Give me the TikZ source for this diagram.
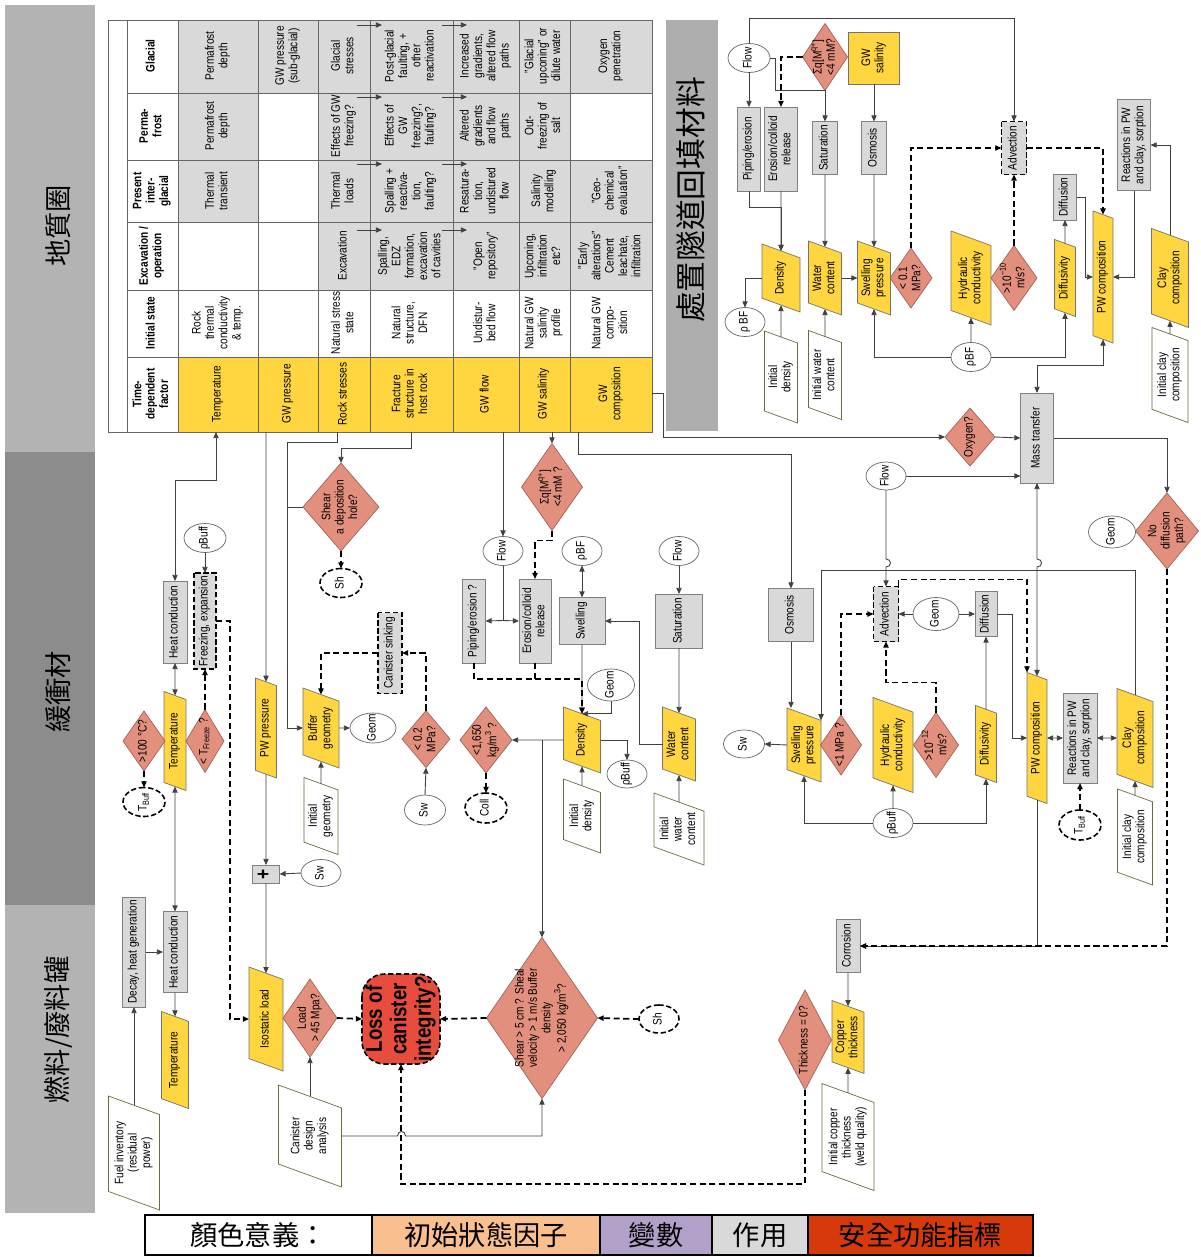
\documentclass[tikz,border=0pt]{standalone}
\usepackage{fontspec}
\setmainfont{Liberation Sans}[FakeStretch=0.82]
\newfontfamily\cjk{Noto Sans CJK TC}
\usetikzlibrary{shapes.geometric, arrows.meta, positioning}

\definecolor{actgray}{RGB}{217,217,217}
\definecolor{varyellow}{RGB}{255,214,64}
\definecolor{sfisalmon}{RGB}{226,143,126}
\definecolor{sfiedge}{RGB}{160,100,88}
\definecolor{iniolive}{RGB}{100,112,60}
\definecolor{lossred}{RGB}{232,76,61}
\definecolor{bandlight}{RGB}{179,179,179}
\definecolor{banddark}{RGB}{140,140,140}
\definecolor{legpeach}{RGB}{250,191,143}
\definecolor{leglav}{RGB}{177,160,199}
\definecolor{legred}{RGB}{214,58,10}

% zero-size centred text block, so the shapes keep their own size
\newcommand{\ntxt}[1]{\smash{\makebox[0pt]{\raisebox{-0.25em}{\begin{tabular}{@{}c@{}}#1\end{tabular}}}}}
% body of a slanted box: #1 = width on the page, #2 = height on the page (px)
\newcommand{\pg}[3]{\pgfmathsetlengthmacro\pgh{#1*0.02cm}%
  \pgfmathsetlengthmacro\pgw{(#2-0.728*#1)*0.02cm}%
  \parbox[c][\pgh][c]{\pgw}{\centering\ntxt{#3}}}

\begin{document}
\begin{tikzpicture}[x=0.02cm, y=-0.02cm,
    >={Triangle[length=3.5pt,width=3pt]},
    base/.style={rotate=90, inner sep=0pt, outer sep=0pt, font=\fontsize{7}{7.6}\selectfont},
    sz/.style 2 args={minimum height=#1*0.02cm, minimum width=#2*0.02cm},
    act/.style={base, rectangle, draw=black!50, fill=actgray},
    dact/.style={act, draw=black, line width=0.9pt, dash pattern=on 3pt off 1.5pt},
    var/.style={base, trapezium, trapezium left angle=70, trapezium right angle=110,
      draw=black!55, fill=varyellow},
    varr/.style={base, rectangle, draw=black!55, fill=varyellow},
    ini/.style={var, draw=iniolive, fill=white},
    sfi/.style={base, diamond, draw=sfiedge, fill=sfisalmon},
    ell/.style={base, ellipse, draw=black!60, fill=white},
    dell/.style={ell, draw=black, line width=0.9pt, dash pattern=on 3pt off 1.5pt},
    loss/.style={base, rectangle, rounded corners=0.45cm, draw=black, line width=0.9pt,
      dash pattern=on 3pt off 1.5pt, fill=lossred, font=\fontsize{13}{14}\selectfont\bfseries},
    ctext/.style={base},
    hd/.style={base, font=\fontsize{7}{7.6}\selectfont\bfseries},
    band/.style={rotate=90, inner sep=0pt, font=\cjk\fontsize{15.5}{15.5}\selectfont},
    grid/.style={draw=black!60, line width=0.5pt},
    ln/.style={draw=black!75, line width=0.5pt},
    dln/.style={draw=black, line width=1pt, dash pattern=on 3.5pt off 2pt},
    leg/.style={rectangle, draw=black, line width=1.3pt, inner sep=0pt, outer sep=0pt,
      minimum height=0.8cm, font=\cjk\fontsize{15.5}{15.5}\selectfont},
  ]
\useasboundingbox (0,0) rectangle (1200,1257);

% side bands
\fill[bandlight] (5,5) rectangle (95,452);
\fill[banddark] (5,452) rectangle (95,905);
\fill[bandlight] (5,905) rectangle (95,1213);
\node[band] (bGeo) at (58,226) {地質圈};
\node[band] (bBuf) at (58,692) {緩衝材};
\node[band] (bCan) at (58,1030) {燃料/廢料罐};
\fill[bandlight!97!black] (666,20) rectangle (718,431);
\node[band, font=\cjk\fontsize{17.5}{17.5}\selectfont] (bBack) at (691,200) {處置隧道回填材料};

% table
\fill[white] (108,20) rectangle (652,432);
\foreach \xa/\ya/\xb/\yb in {178/20/258/222, 258/20/318/93, 318/20/570/290, 570/160/652/290, 570/20/652/93}
  \fill[actgray] (\xa,\ya) rectangle (\xb,\yb);
\fill[varyellow] (178,357) rectangle (652,432);
\foreach \x in {127,178,258,318,370,453,519,570}
  \draw[grid] (\x,20) -- (\x,432);
\foreach \y in {93,160,222,290,357}
  \draw[grid] (127,\y) -- (652,\y);
\draw[grid] (108,20) rectangle (652,432);
\foreach \y in {25,97,164,230} {
  \draw[ln,->] (357,\y) -- (382,\y);
  \draw[ln,->] (442,\y) -- (467,\y);
}

\node[hd] (hTdf) at (152,394) {\ntxt{Time-\\dependent\\factor}};
\node[hd] (hIni) at (152,323) {\ntxt{Initial state}};
\node[hd] (hExc) at (152,256) {\ntxt{Excavation /\\operation}};
\node[hd] (hPre) at (152,191) {\ntxt{Present\\inter-\\glacial}};
\node[hd] (hPer) at (152,126) {\ntxt{Perma-\\frost}};
\node[hd] (hGla) at (152,56) {\ntxt{Glacial}};

\node[ctext] (tdfT) at (218,394) {\ntxt{Temperature}};
\node[ctext] (iniT) at (218,323) {\ntxt{Rock\\thermal\\conductivity\\\& temp.}};
\node[ctext] (preT) at (218,191) {\ntxt{Thermal\\transient}};
\node[ctext] (perT) at (218,126) {\ntxt{Permafrost\\depth}};
\node[ctext] (glaT) at (218,56) {\ntxt{Permafrost\\depth}};

\node[ctext] (tdfP) at (288,394) {\ntxt{GW pressure}};
\node[ctext] (glaP) at (288,56) {\ntxt{GW pressure\\(sub-glacial)}};

\node[ctext] (tdfR) at (344,394) {\ntxt{Rock stresses}};
\node[ctext] (iniR) at (344,323) {\ntxt{Natural stress\\state}};
\node[ctext] (excR) at (344,256) {\ntxt{Excavation}};
\node[ctext] (preR) at (344,191) {\ntxt{Thermal\\loads}};
\node[ctext] (perR) at (344,126) {\ntxt{Effects of GW\\freezing?}};
\node[ctext] (glaR) at (344,56) {\ntxt{Glacial\\stresses}};

\node[ctext] (tdfF) at (411,394) {\ntxt{Fracture\\structure in\\host rock}};
\node[ctext] (iniF) at (411,323) {\ntxt{Natural\\structure,\\DFN}};
\node[ctext] (excF) at (411,256) {\ntxt{Spalling,\\EDZ\\formation,\\excavation\\of cavities}};
\node[ctext] (preF) at (411,191) {\ntxt{Spalling +\\reactiva-\\tion,\\faulting?}};
\node[ctext] (perF) at (411,126) {\ntxt{Effects of\\GW\\freezing?,\\faulting?}};
\node[ctext] (glaF) at (411,56) {\ntxt{Post-glacial\\faulting, +\\other\\reactivation}};

\node[ctext] (tdfW) at (486,394) {\ntxt{GW flow}};
\node[ctext] (iniW) at (486,323) {\ntxt{Undistur-\\bed flow}};
\node[ctext] (excW) at (486,256) {\ntxt{"Open\\repository"}};
\node[ctext] (preW) at (486,191) {\ntxt{Resatura-\\tion,\\undistured\\flow}};
\node[ctext] (perW) at (486,126) {\ntxt{Altered\\gradients\\and flow\\paths}};
\node[ctext] (glaW) at (486,56) {\ntxt{Increased\\gradients,\\altered flow\\paths}};

\node[ctext] (tdfS) at (544,394) {\ntxt{GW salinity}};
\node[ctext] (iniS) at (544,323) {\ntxt{Natural GW\\salinity\\profile}};
\node[ctext] (excS) at (544,256) {\ntxt{Upconing,\\infiltration\\etc?}};
\node[ctext] (preS) at (544,191) {\ntxt{Salinity\\modelling}};
\node[ctext] (perS) at (544,126) {\ntxt{Out-\\freezing of\\salt}};
\node[ctext] (glaS) at (544,56) {\ntxt{"Glacial\\upconing" or\\dilute water}};

\node[ctext] (tdfC) at (611,394) {\ntxt{GW\\composition}};
\node[ctext] (iniC) at (611,323) {\ntxt{Natural GW\\compo-\\sition}};
\node[ctext] (excC) at (611,256) {\ntxt{"Early\\alterations"\\Cement\\leachate,\\infiltration}};
\node[ctext] (preC) at (611,191) {\ntxt{"Geo-\\chemical\\evaluation"}};
\node[ctext] (glaC) at (611,56) {\ntxt{Oxygen\\penetration}};

\coordinate (oTemp) at (216,432);
\coordinate (oGwp) at (266,432);
\coordinate (oRock) at (337,432);
\coordinate (oFrac) at (411,432);
\coordinate (oFlow) at (503,432);
\coordinate (oSal) at (552,432);
\coordinate (oComp) at (578,432);
\coordinate (oComp2) at (652,393);

% backfill panel
\node[ell, sz={42}{29}] (flowT) at (749,58) {\ntxt{Flow}};
\node[sfi, sz={45}{67}] (dSigT) at (825,57) {\ntxt{Σq[M\textsuperscript{q+}]\\<4 mM?}};
\node[varr, sz={51}{52}] (salT) at (874,58) {\ntxt{GW\\salinity}};
\node[act, sz={23}{84}] (pipT) at (749,149) {\ntxt{Piping/erosion}};
\node[act, sz={33}{84}] (eroT) at (781,149) {\ntxt{Erosion/colloid\\release}};
\node[act, sz={25}{53}] (satT) at (825,148) {\ntxt{Saturation}};
\node[act, sz={25}{53}] (osmoT) at (874,148) {\ntxt{Osmosis}};
\node[dact, sz={25}{53}] (advT) at (1014,148) {\ntxt{Advection}};
\node[act, sz={33}{91}] (reactT) at (1134,145) {\ntxt{Reactions in PW\\and clay, sorption}};
\node[act, sz={23}{46}] (diffT) at (1065,197) {\ntxt{Diffusion}};
\node[var] (densT) at (781,278) {\pg{38}{68}{Density}};
\node[var] (wcT) at (825,278) {\pg{33}{74}{Water\\content}};
\node[var] (spT) at (874,278) {\pg{33}{74}{Swelling\\pressure}};
\node[sfi, sz={42}{60}] (d01) at (911,278) {\ntxt{< 0.1\\MPa?}};
\node[var] (hcondT) at (971,278) {\pg{40}{94}{Hydraulic\\conductivity}};
\node[sfi, sz={46}{65}] (d10) at (1014,278) {\ntxt{>10\textsuperscript{−10}\\m/s?}};
\node[var] (diffvT) at (1065,278) {\pg{21}{77}{Diffusivity}};
\node[var] (pwcT) at (1103,277) {\pg{20}{132}{PW composition}};
\node[var] (clayT) at (1170,278) {\pg{37}{99}{Clay\\composition}};
\node[ell, sz={40}{29}] (rhoBFT) at (745,322) {\ntxt{ρ BF}};
\node[ini] (iniDensT) at (781,377) {\pg{33}{92}{Initial\\density}};
\node[ini] (iniWcT) at (825,375) {\pg{33}{89}{Initial water\\content}};
\node[ell, sz={40}{29}] (rhoBFT2) at (971,357) {\ntxt{ρBF}};
\node[ini] (iniClayT) at (1170,375) {\pg{36}{95}{Initial clay\\composition}};

\draw[ln,->] (flowT.east) -- ++(0,-25) -| (advT.east);
\draw[ln,->] (flowT.west) -- (pipT.east);
\draw[ln,->] (flowT.south) -- ++(5,0) |- (dSigT.west) -| (satT.east);
\draw[dln,->] (dSigT.north) -| (eroT.east);
\draw[ln,->] (salT.west) -- (osmoT.east);
\draw[ln,->] (pipT.west) -- ++(0,16) -| (densT.east);
\draw[ln,->] (eroT.west) -- (densT.east);
\draw[ln,->] (satT.west) -- (wcT.east);
\draw[ln,->] (osmoT.west) -- (spT.east);
\draw[ln,->] (wcT.south) -- (spT.north);
\draw[ln,->] (densT.north) -| (rhoBFT.east);
\draw[ln,->] (iniDensT.east) -- (densT.west);
\draw[ln,->] (iniWcT.east) -- (wcT.west);
\draw[ln,->] (rhoBFT2.north) -| (spT.west);
\draw[ln,->] (rhoBFT2.east) -- (hcondT.west);
\draw[ln,->] (rhoBFT2.south) -| (diffvT.west);
\draw[dln,->] (d01.east) |- (advT.north);
\draw[dln,->] (d10.east) -- (advT.west);
\draw[dln,->] (advT.south) -| (pwcT.east);
\draw[ln,->] (diffvT.east) -- (diffT.west);
\draw[ln,->] (diffT.south) -- ++(9,0) |- (pwcT.north);
\draw[ln,->] (reactT.west) |- (pwcT.south);
\draw[ln,->] (clayT.east) |- (reactT.south);
\draw[ln,->] (iniClayT.east) -- (clayT.west);

% buffer, left part
\node[act, sz={24}{82}] (hcB) at (175,622) {\ntxt{Heat conduction}};
\node[var] (tempB) at (175,741) {\pg{22}{99}{Temperature}};
\node[sfi, sz={42}{60}] (d100) at (144,741) {\ntxt{>100 °C?}};
\node[dell, sz={42}{29}] (tbuffA) at (144,802) {\ntxt{T\textsubscript{Buff}}};
\node[sfi, sz={38}{63}] (dFreeze) at (205,741) {\ntxt{< T\textsubscript{Freeze} ?}};
\node[dact, sz={22}{96}] (freezeB) at (205,621) {\ntxt{Freezing, expansion}};
\node[ell, sz={42}{29}] (rhoBuffA) at (205,538) {\ntxt{ρBuff}};
\node[sfi, sz={76}{88}] (shearD) at (341,507) {\ntxt{Shear\\a deposition\\hole?}};
\node[dell, sz={42}{29}] (shA) at (341,583) {\ntxt{Sh}};
\node[dact, sz={24}{81}] (sinkB) at (390,653) {\ntxt{Canister sinking}};
\node[sfi, sz={48}{57}] (d02) at (426,739) {\ntxt{< 0.2\\MPa?}};
\node[ell, sz={41}{30}] (swA) at (425,810) {\ntxt{Sw}};
\node[var] (geomB) at (321,728) {\pg{36}{80}{Buffer\\geometry}};
\node[ell, sz={46}{30}] (geomA) at (373,728) {\ntxt{Geom}};
\node[ini] (iniGeom) at (321,816) {\pg{34}{77}{Initial\\geometry}};
\node[var] (pwpB) at (266,728) {\pg{21}{100}{PW pressure}};
\node[act, sz={27}{18}, font=\fontsize{12}{12}\selectfont\bfseries] (plusB) at (266,874) {\ntxt{+}};
\node[ell, sz={40}{27}] (swB) at (321,873) {\ntxt{Sw}};

\draw[ln,<->] (oTemp) -- ++(0,48) -| (hcB.east);
\draw[ln,<->] (hcB.west) -- (tempB.east);
\draw[dln,->] (d100.west) -- (tbuffA.east);
\draw[dln,->] (dFreeze.east) -- (freezeB.west);
\draw[ln,->] (rhoBuffA.west) -- (freezeB.east);
\draw[ln,->] (oGwp) -- (pwpB.east);
\draw[ln,->] (oRock) -- ++(0,10) -- ++(-50,0) |- (geomB.north);
\draw[ln] (shearD.north) -- ++(-16,0);
\draw[ln,->] (oFrac) -- ++(0,16) -| (shearD.east);
\draw[dln,->] (shearD.west) -- (shA.east);
\draw[dln,->] (sinkB.north) -| (geomB.east);
\draw[dln,->] (d02.east) |- (sinkB.south);
\draw[ln,->] (swA.east) -- (d02.west);
\draw[ln,->] (geomB.south) -- (geomA.north);
\draw[ln,->] (iniGeom.east) -- (geomB.west);
\draw[ln,->] (pwpB.west) -- (plusB.east);
\draw[ln,->] (swB.north) -- (plusB.south);

% buffer, middle part
\node[sfi, sz={52}{66}] (dColl) at (486,740) {\ntxt{<1,650\\kg/m\textsuperscript{3} ?}};
\node[dell, sz={42}{30}] (collA) at (486,808) {\ntxt{Coll}};
\node[ell, sz={40}{29}] (flowA) at (503,551) {\ntxt{Flow}};
\node[act, sz={23}{84}] (pipB) at (474,621) {\ntxt{Piping/erosion ?}};
\node[act, sz={32}{84}] (eroB) at (535,621) {\ntxt{Erosion/colloid\\release}};
\node[sfi, sz={61}{87}] (dSigB) at (552,487) {\ntxt{Σq[M\textsuperscript{q+}]\\<4 mM ?}};
\node[ell, sz={40}{29}] (rhoBFA) at (582,551) {\ntxt{ρBF}};
\node[act, sz={46}{47}] (swellB) at (582,621) {\ntxt{Swelling}};
\node[ell, sz={40}{29}] (flowB) at (679,551) {\ntxt{Flow}};
\node[act, sz={47}{54}] (satB) at (679,621) {\ntxt{Saturation}};
\node[var] (densB) at (582,740) {\pg{37}{66}{Density}};
\node[ell, sz={47}{32}] (geomC) at (611,685) {\ntxt{Geom}};
\node[var] (wcB) at (679,744) {\pg{33}{74}{Water\\content}};
\node[ell, sz={40}{28}] (rhoBuffB) at (627,774) {\ntxt{ρBuff}};
\node[ini] (iniDens) at (582,816) {\pg{37}{74}{Initial\\density}};
\node[ini] (iniWc) at (679,829) {\pg{50}{72}{Initial\\water\\content}};
\node[ell, sz={41}{28}] (swC) at (744,744) {\ntxt{Sw}};

\draw[ln,->] (oFlow) -- (flowA.east);
\draw[ln] (flowA.west) -- ++(0,55) coordinate (fjA);
\draw[ln,->] (fjA) -- (pipB.south);
\draw[ln,->] (fjA) -- (eroB.north);
\draw[ln,->] (oSal) -- (dSigB.east);
\draw[dln,->] (dSigB.west) -- ++(0,10) -| (eroB.east);
\draw[ln,<->] (rhoBFA.west) -- (swellB.east);
\draw[ln,->] (swellB.west) -- (densB.east);
\draw[dln,->] (pipB.west) -- ++(0,16) -| (densB.east);
\draw[dln] (eroB.west) -- ++(0,16);
\draw[ln,->] (geomC.west) |- (densB.east);
\draw[ln,->] (flowB.west) -- (satB.east);
\draw[ln,->] (satB.west) -- (wcB.east);
\draw[ln,->] (wcB.north) -- ++(-23,0) |- (swellB.south);
\draw[ln,->] (densB.south) -| (rhoBuffB.east);
\draw[ln,->] (densB.north) -- (dColl.south);
\draw[dln,->] (dColl.west) -- (collA.east);
\draw[ln,->] (iniDens.east) -- (densB.west);
\draw[ln,->] (iniWc.east) -- (wcB.west);

% buffer, right part
\node[act, sz={45}{53}] (osmoB) at (791,615) {\ntxt{Osmosis}};
\node[var] (spB) at (804,745) {\pg{34}{74}{Swelling\\pressure}};
\node[sfi, sz={41}{60}] (d1MPa) at (841,745) {\ntxt{<1 MPa ?}};
\node[dact, sz={25}{55}] (advB) at (886,614) {\ntxt{Advection}};
\node[ell, sz={46}{33}] (geomD) at (936,614) {\ntxt{Geom}};
\node[act, sz={22}{45}] (diffB) at (986,614) {\ntxt{Diffusion}};
\node[var] (hcondB) at (893,745) {\pg{40}{95}{Hydraulic\\conductivity}};
\node[sfi, sz={45}{65}] (d12) at (936,745) {\ntxt{>10\textsuperscript{−12}\\m/s?}};
\node[var] (diffvB) at (986,744) {\pg{21}{77}{Diffusivity}};
\node[var] (pwcB) at (1037,738) {\pg{20}{131}{PW composition}};
\node[act, sz={34}{90}] (reactB) at (1080,738) {\ntxt{Reactions in PW\\and clay, sorption}};
\node[var] (clayB) at (1135,738) {\pg{36}{99}{Clay\\composition}};
\node[ini] (iniClayB) at (1135,837) {\pg{35}{96}{Initial clay\\composition}};
\node[dell, sz={42}{30}] (tbuffB) at (1080,825) {\ntxt{T\textsubscript{Buff}}};
\node[ell, sz={40}{29}] (rhoBuffC) at (893,823) {\ntxt{ρBuff}};
\node[ell, sz={40}{28}] (flowC) at (886,476) {\ntxt{Flow}};
\node[act, sz={33}{90}] (massT) at (1037,438) {\ntxt{Mass transfer}};
\node[sfi, sz={50}{58}] (dOxy) at (970,437) {\ntxt{Oxygen?}};
\node[sfi, sz={63}{76}] (dNoDiff) at (1167,531) {\ntxt{No\\diffusion\\path?}};
\node[ell, sz={47}{32}] (geomE) at (1112,532) {\ntxt{Geom}};

\draw[ln,->] (oComp) -- ++(0,22) -| (osmoB.east);
\draw[ln,->] (oComp2) -- ++(11,0) |- (dOxy.north);
\draw[ln,->] (dOxy.south) -- (massT.north);
\draw[ln,->] (massT.south) -| (dNoDiff.east);
\draw[ln,->] (flowC.south) -- (flowC.south -| massT.north);
\draw[ln,->] (flowC.west) -- ++(0,69) .. controls +(6,0) and +(6,0) .. ++(0,8) -- (advB.east);
\draw[ln,<->] (massT.east) -- ++(0,-28) -| (pwcT.west);
\draw[ln,->] (osmoB.west) -- (osmoB.west |- spB.top right corner);
\draw[ln,->] (clayB.east) -- ++(0,-125) -| (spB.bottom right corner);
\draw[ln,->] (spB.north) -- (swC.south);
\draw[dln,->] (d1MPa.east) |- (advB.north);
\draw[ln,->] (geomD.north) -- (advB.south);
\draw[ln,->] (geomD.south) -- (diffB.north);
\draw[dln,->] (d12.east) -- ++(0,-30) -| (advB.west);
\draw[ln,->] (diffvB.east) -- (diffB.west);
\draw[ln,->] (diffB.south) -- ++(15,0) |- (pwcB.north);
\draw[dln,->] (advB.south east) -- ++(0,-7) -| (pwcB.top right corner);
\draw[ln,<->] (massT.west) -- ++(0,76) .. controls +(6,0) and +(6,0) .. ++(0,8) -- (pwcB.east);
\draw[ln,<->] (pwcB.south) -- (reactB.north);
\draw[ln,<->] (reactB.south) -- (clayB.north);
\draw[ln,->] (iniClayB.east) -- (clayB.west);
\draw[dln,->] (tbuffB.east) -- (reactB.west);
\draw[ln,->] (rhoBuffC.east) -- (hcondB.west);
\draw[ln,->] (rhoBuffC.north) -| (spB.west);
\draw[ln,->] (rhoBuffC.south) -| (diffvB.west);

% canister
\node[act, sz={23}{110}] (decayB) at (134,952) {\ntxt{Decay, heat generation}};
\node[act, sz={24}{81}] (hcC) at (175,952) {\ntxt{Heat conduction}};
\node[var] (tempC) at (175,1060) {\pg{27}{97}{Temperature}};
\node[ini] (fuelIni) at (134,1153) {\pg{51}{114}{Fuel inventory\\(residual\\power)}};
\node[var] (isoB) at (266,1019) {\pg{34}{104}{Isostatic load}};
\node[sfi, sz={54}{78}] (dLoad) at (310,1018) {\ntxt{Load\\> 45 Mpa?}};
\node[loss, sz={78}{90}] (lossB) at (401,1019) {\ntxt{Loss of\\canister\\integrity?}};
\node[ini] (canDes) at (310,1136) {\pg{63}{102}{Canister\\design\\analysis}};
\node[sfi, sz={111}{161}] (dShear) at (542,1018)
  {\ntxt{Shear > 5 cm ? Sheal\\velocity > 1 m/s Buffer\\density\\> 2,050 kg/m\textsuperscript{3}?}};
\node[dell, sz={40}{28}] (shB) at (659,1019) {\ntxt{Sh}};
\node[sfi, sz={53}{100}] (dThick) at (805,1040) {\ntxt{Thickness = 0?}};
\node[var] (cuB) at (848,1037) {\pg{32}{73}{Copper\\thickness}};
\node[act, sz={24}{53}] (corrB) at (848,946) {\ntxt{Corrosion}};
\node[ini] (iniCu) at (848,1137) {\pg{52}{107}{Initial copper\\thickness\\(weld quality)}};

\draw[ln,<->] (tempB.west) -- (hcC.east);
\draw[ln,->] (decayB.south) -- (hcC.north);
\draw[ln,->] (hcC.west) -- (tempC.east);
\draw[ln,->] (fuelIni.east) -- (decayB.west);
\draw[ln,->] (plusB.west) -- (isoB.east);
\draw[dln,->] (freezeB.south) -- ++(14,0) |- (isoB.north);
\draw[dln,->] (dLoad.south) -- (lossB.north);
\draw[ln,->] (canDes.east) -- (dLoad.west);
\draw[ln,->] (canDes.south) -- ++(56,0) .. controls +(0,-6) and +(0,-6) .. ++(8,0) -| (dShear.west);
\draw[ln,->] (dShear.east |- densB.north) -- (dShear.east);
\draw[dln,->] (dShear.north) -- (lossB.south);
\draw[dln,->] (shB.north) -- (dShear.south);
\draw[dln,->] (dThick.west) -- ++(0,94) -| (lossB.west);
\draw[ln,->] (corrB.west) -- (cuB.east);
\draw[ln,->] (iniCu.east) -- (cuB.west);
\draw[ln,->] (pwcB.west) |- (corrB.south);
\draw[dln,->] (dNoDiff.west) |- (corrB.south);

% legend
\node[leg, fill=white, minimum width=227*0.02cm] (leg1) at (258.5,1235) {顏色意義：};
\node[leg, fill=legpeach, minimum width=228*0.02cm, right=0pt of leg1] (leg2) {初始狀態因子};
\node[leg, fill=leglav, minimum width=112*0.02cm, right=0pt of leg2] (leg3) {變數};
\node[leg, fill=actgray, minimum width=96*0.02cm, right=0pt of leg3] (leg4) {作用};
\node[leg, fill=legred, minimum width=225*0.02cm, right=0pt of leg4] (leg5) {安全功能指標};
\end{tikzpicture}
\end{document}
